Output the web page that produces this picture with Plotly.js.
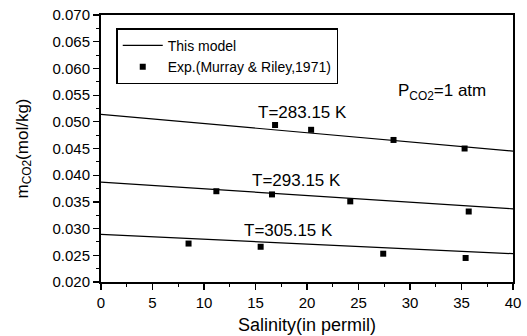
<!DOCTYPE html>
<html>
<head>
<meta charset="utf-8">
<script src="https://cdn.plot.ly/plotly-3.0.1.min.js"></script>
<style>html,body{margin:0;padding:0;background:#fff;}#chart{width:527px;height:336px;}</style>
</head>
<body>
<div id="chart"></div>
<script>
// Model lines (salinity vs m_CO2)
const modelS = [0, 20, 40];
const model283 = [0.0514, 0.0479, 0.0445];
const model293 = [0.0387, 0.0362, 0.0337];
const model305 = [0.0289, 0.0271, 0.0253];

// Experimental data (Murray & Riley, 1971)
const exp283S = [16.9, 20.4, 28.4, 35.3];
const exp283M = [0.0494, 0.0485, 0.0466, 0.0450];
const exp293S = [11.2, 16.6, 24.2, 35.7];
const exp293M = [0.0370, 0.0364, 0.0351, 0.0332];
const exp305S = [8.5, 15.5, 27.4, 35.4];
const exp305M = [0.0272, 0.0266, 0.0253, 0.0245];

const curveLabels = ['T=283.15 K', 'T=293.15 K', 'T=305.15 K'];
const legendNames = ['This model', 'Exp.(Murray & Riley,1971)'];

const font = 'Liberation Sans, Arial, sans-serif';
const lineStyle = {color: '#000', width: 1.2};
const markerStyle = {symbol: 'square', size: 6, color: '#000'};

const traces = [
  {x: modelS, y: model283, mode: 'lines', line: lineStyle, name: legendNames[0], legendgroup: 'm', showlegend: true},
  {x: modelS, y: model293, mode: 'lines', line: lineStyle, name: legendNames[0], legendgroup: 'm', showlegend: false},
  {x: modelS, y: model305, mode: 'lines', line: lineStyle, name: legendNames[0], legendgroup: 'm', showlegend: false},
  {x: exp283S, y: exp283M, mode: 'markers', marker: markerStyle, name: legendNames[1], legendgroup: 'e', showlegend: true},
  {x: exp293S, y: exp293M, mode: 'markers', marker: markerStyle, name: legendNames[1], legendgroup: 'e', showlegend: false},
  {x: exp305S, y: exp305M, mode: 'markers', marker: markerStyle, name: legendNames[1], legendgroup: 'e', showlegend: false}
];

const layout = {
  width: 527, height: 336,
  margin: {l: 101, r: 14, t: 15, b: 54, pad: 0},
  paper_bgcolor: '#fff', plot_bgcolor: '#fff',
  font: {family: font, color: '#000', size: 14},
  showlegend: true,
  legend: {
    x: 0.037, y: 0.95, xanchor: 'left', yanchor: 'top',
    bordercolor: '#000', borderwidth: 1.5, bgcolor: '#fff',
    font: {family: font, size: 14, color: '#000'},
    tracegroupgap: 0, itemwidth: 40
  },
  xaxis: {
    range: [0, 40], dtick: 5, tick0: 0,
    showgrid: false, zeroline: false,
    showline: true, linecolor: '#000', linewidth: 2, mirror: true,
    ticks: 'outside', ticklen: 6, tickwidth: 1.2, tickcolor: '#000',
    minor: {dtick: 2.5, ticks: 'outside', ticklen: 3, tickcolor: '#000', tickwidth: 1},
    tickfont: {family: font, size: 15},
    title: {text: 'Salinity(in permil)', font: {family: font, size: 18}, standoff: 8}
  },
  yaxis: {
    range: [0.020, 0.070], dtick: 0.005, tick0: 0.020, tickformat: '.3f',
    showgrid: false, zeroline: false,
    showline: true, linecolor: '#000', linewidth: 2, mirror: true,
    ticks: 'outside', ticklen: 6, tickwidth: 1.2, tickcolor: '#000',
    minor: {dtick: 0.0025, ticks: 'outside', ticklen: 3, tickcolor: '#000', tickwidth: 1},
    tickfont: {family: font, size: 15},
    title: {text: 'm<sub>CO2</sub>(mol/kg)', font: {family: font, size: 17}, standoff: 20}
  },
  annotations: [
    {x: 19.6, y: 0.0517, xref: 'x', yref: 'y', text: curveLabels[0], showarrow: false, font: {family: font, size: 17}},
    {x: 19.0, y: 0.0390, xref: 'x', yref: 'y', text: curveLabels[1], showarrow: false, font: {family: font, size: 17}},
    {x: 18.2, y: 0.0297, xref: 'x', yref: 'y', text: curveLabels[2], showarrow: false, font: {family: font, size: 17}},
    {x: 33.1, y: 0.0555, xref: 'x', yref: 'y', text: 'P<sub>CO2</sub>=1 atm', showarrow: false, font: {family: font, size: 17}}
  ]
};

Plotly.newPlot('chart', traces, layout, {displayModeBar: false, staticPlot: true});
</script>
</body>
</html>
